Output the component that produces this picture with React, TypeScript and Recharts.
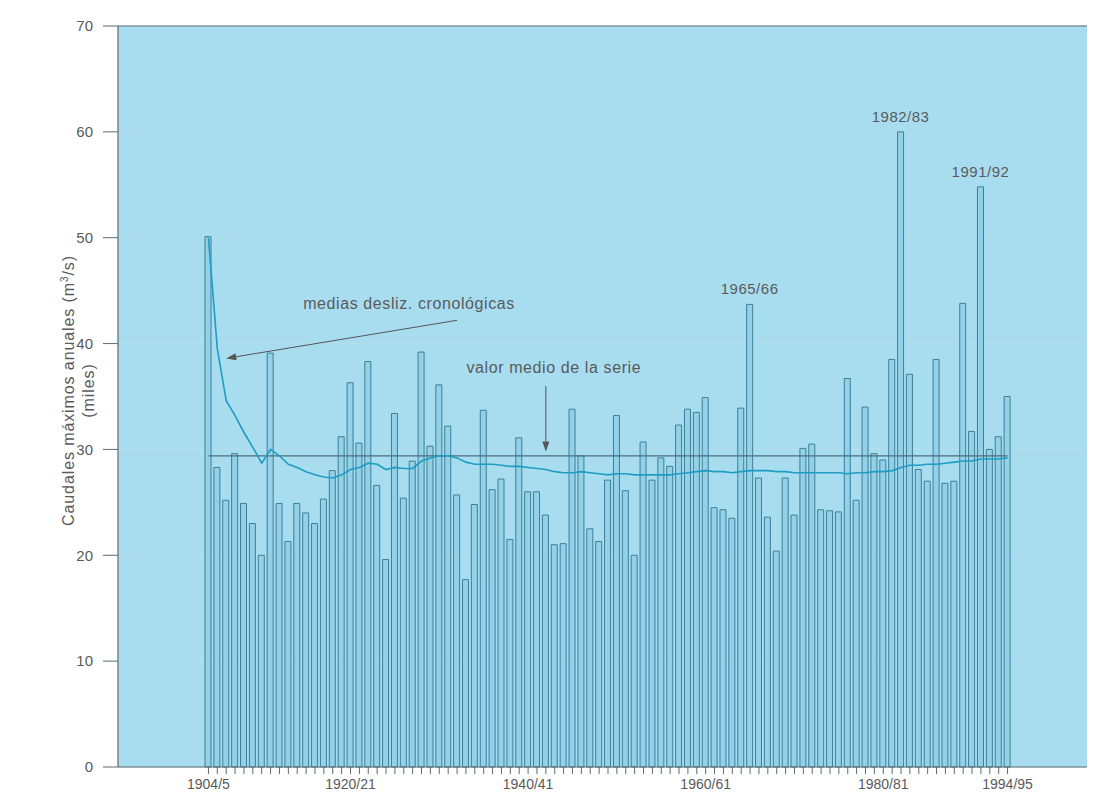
import React from "react";
import {
  ComposedChart,
  Bar,
  Line,
  XAxis,
  YAxis,
  CartesianGrid,
  ReferenceLine,
  LabelList,
  Label,
} from "recharts";

// ---- data ----
const FIRST_YEAR = 1904;

// annual maximum flows (thousand m3/s), 1904/05 ... 1994/95
const PEAK_FLOWS: number[] = [
  50.1, 28.3, 25.2, 29.6, 24.9, 23.0, 20.0, 39.1, 24.9, 21.3,
  24.9, 24.0, 23.0, 25.3, 28.0, 31.2, 36.3, 30.6, 38.3, 26.6,
  19.6, 33.4, 25.4, 28.9, 39.2, 30.3, 36.1, 32.2, 25.7, 17.7,
  24.8, 33.7, 26.2, 27.2, 21.5, 31.1, 26.0, 26.0, 23.8, 21.0,
  21.1, 33.8, 29.4, 22.5, 21.3, 27.1, 33.2, 26.1, 20.0, 30.7,
  27.1, 29.2, 28.4, 32.3, 33.8, 33.5, 34.9, 24.5, 24.3, 23.5,
  33.9, 43.7, 27.3, 23.6, 20.4, 27.3, 23.8, 30.1, 30.5, 24.3,
  24.2, 24.1, 36.7, 25.2, 34.0, 29.6, 29.0, 38.5, 60.0, 37.1,
  28.1, 27.0, 38.5, 26.8, 27.0, 43.8, 31.7, 54.8, 30.0, 31.2,
  35.0,
];

const RUNNING_MEAN: number[] = [
  50.0, 39.5, 34.6, 33.2, 31.6, 30.2, 28.7, 30.0, 29.4, 28.6,
  28.3, 27.9, 27.6, 27.4, 27.3, 27.6, 28.1, 28.3, 28.7, 28.6,
  28.1, 28.3, 28.2, 28.2, 28.9, 29.2, 29.4, 29.4, 29.2, 28.8,
  28.6, 28.6, 28.6, 28.5, 28.4, 28.4, 28.3, 28.2, 28.1, 27.9,
  27.8, 27.8, 27.9, 27.8, 27.7, 27.6, 27.7, 27.7, 27.6, 27.6,
  27.6, 27.6, 27.6, 27.7, 27.8, 27.9, 28.0, 27.9, 27.9, 27.8,
  27.9, 28.0, 28.0, 28.0, 27.9, 27.9, 27.8, 27.8, 27.8, 27.8,
  27.8, 27.8, 27.7, 27.8, 27.8, 27.9, 27.9, 28.0, 28.3, 28.5,
  28.5, 28.6, 28.6, 28.7, 28.8, 28.9, 28.9, 29.1, 29.1, 29.1,
  29.2,
];

const SERIES_MEAN = 29.4;

const Y_TICKS: number[] = [0, 10, 20, 30, 40, 50, 60, 70];

const X_TICK_YEARS: number[] = [1904, 1920, 1940, 1960, 1980, 1994];
const X_TICK_TEXT: string[] = ["1904/5", "1920/21", "1940/41", "1960/61", "1980/81", "1994/95"];

const PEAK_YEARS: number[] = [1965, 1982, 1991];
const PEAK_TEXT: string[] = ["1965/66", "1982/83", "1991/92"];

const ANNOT_RUNNING = "medias desliz. cronológicas";
const ANNOT_MEAN = "valor medio de la serie";

// ---- build table ----
const seasonOf = (y: number) => `${y}/${String(y + 1).slice(2)}`;
const data = PEAK_FLOWS.map((v, i) => ({
  season: seasonOf(FIRST_YEAR + i),
  caudal: v,
  media: RUNNING_MEAN[i],
  mediaSerie: SERIES_MEAN,
}));

const tickText: Record<string, string> = {};
X_TICK_YEARS.forEach((y, i) => (tickText[seasonOf(y)] = X_TICK_TEXT[i]));
const peakText: Record<string, string> = {};
PEAK_YEARS.forEach((y, i) => (peakText[seasonOf(y)] = PEAK_TEXT[i]));

const FONT = "'Liberation Sans', Arial, sans-serif";
const TEXT = "#5a5a5a";
const AXIS = "#5f6b70";

const XTick = (props: any) => {
  const { x, y, payload } = props;
  const t = tickText[payload.value];
  return (
    <g>
      <line x1={x} x2={x} y1={y} y2={y + 7} stroke={AXIS} strokeWidth={1} />
      {t && (
        <text x={x} y={y + 22} textAnchor="middle" fontSize={14} fill={TEXT} fontFamily={FONT}>
          {t}
        </text>
      )}
    </g>
  );
};

const PeakLabel = (props: any) => {
  const { x, y, width, value } = props;
  const t = peakText[value];
  if (!t) return null;
  return (
    <text
      x={x + width / 2}
      y={y - 10}
      textAnchor="middle"
      fontSize={15}
      letterSpacing={0.5}
      fill={TEXT}
      fontFamily={FONT}
    >
      {t}
    </text>
  );
};

const arrowShape = (text: string, dx: number, dy: number) => (props: any) => {
  const { x1, y1, x2, y2 } = props;
  const ang = Math.atan2(y2 - y1, x2 - x1);
  const L = 10;
  const W = 3.5;
  const bx = x2 - L * Math.cos(ang);
  const by = y2 - L * Math.sin(ang);
  const px = -Math.sin(ang) * W;
  const py = Math.cos(ang) * W;
  return (
    <g>
      <line x1={x1} y1={y1} x2={bx} y2={by} stroke="#555" strokeWidth={1} />
      <polygon
        points={`${x2},${y2} ${bx + px},${by + py} ${bx - px},${by - py}`}
        fill="#555"
      />
      <text
        x={x1 + dx}
        y={y1 + dy}
        textAnchor="middle"
        fontSize={16}
        letterSpacing={0.6}
        fill={TEXT}
        fontFamily={FONT}
      >
        {text}
      </text>
    </g>
  );
};

const YTitle = (props: any) => {
  const vb = props.viewBox || {};
  const cy = (vb.y || 0) + (vb.height || 0) / 2 - 6;
  const x1 = 66;
  const x2 = 86;
  return (
    <g fill={TEXT} fontFamily={FONT} fontSize={16} letterSpacing={0.9}>
      <text x={x1} y={cy} textAnchor="middle" transform={`rotate(-90 ${x1} ${cy})`}>
        Caudales máximos anuales (m
        <tspan fontSize={10} dy={-6}>3</tspan>
        <tspan dy={6}>/s)</tspan>
      </text>
      <text x={x2} y={cy} textAnchor="middle" transform={`rotate(-90 ${x2} ${cy})`}>
        (miles)
      </text>
    </g>
  );
};

export default function App() {
  return (
    <div style={{ width: 1087, height: 790 }}>
      <ComposedChart
        width={1087}
        height={790}
        data={data}
        margin={{ top: 18, right: 0, bottom: 0, left: 0 }}
        barCategoryGap={2}
      >
        <CartesianGrid vertical={false} stroke="#b7dce8" strokeWidth={0.8} fill="#a8ddf0" />
        <XAxis
          dataKey="season"
          type="category"
          interval={0}
          height={31}
          tick={<XTick />}
          tickLine={false}
          tickSize={0}
          tickMargin={0}
          axisLine={{ stroke: AXIS, strokeWidth: 1.2 }}
          padding={{ left: 86, right: 83 }}
        />
        <YAxis
          type="number"
          domain={[0, 70]}
          ticks={Y_TICKS}
          width={110}
          tickSize={15}
          tickMargin={10}
          axisLine={{ stroke: AXIS, strokeWidth: 1.2 }}
          tickLine={{ stroke: AXIS }}
          tick={{ fontSize: 15, fill: TEXT, fontFamily: FONT }}
        >
          <Label content={<YTitle />} />
        </YAxis>
        <ReferenceLine y={70} stroke={AXIS} strokeWidth={1.2} />
        <Bar
          dataKey="caudal"
          barSize={6}
          fill="#92d1e8"
          stroke="#3e7f98"
          strokeWidth={1}
          isAnimationActive={false}
        >
          <LabelList dataKey="season" content={<PeakLabel />} />
        </Bar>
        <Line
          dataKey="mediaSerie"
          stroke="#4c6c7a"
          strokeWidth={1.3}
          dot={false}
          isAnimationActive={false}
        />
        <Line
          dataKey="media"
          stroke="#1f9cc2"
          strokeWidth={1.6}
          dot={false}
          isAnimationActive={false}
        />
        <ReferenceLine
          segment={[
            { x: seasonOf(1932), y: 42.2 },
            { x: seasonOf(1906), y: 38.6 },
          ]}
          shape={arrowShape(ANNOT_RUNNING, -48, -11)}
        />
        <ReferenceLine
          segment={[
            { x: seasonOf(1942), y: 36.0 },
            { x: seasonOf(1942), y: 29.8 },
          ]}
          shape={arrowShape(ANNOT_MEAN, 8, -13)}
        />
      </ComposedChart>
    </div>
  );
}
